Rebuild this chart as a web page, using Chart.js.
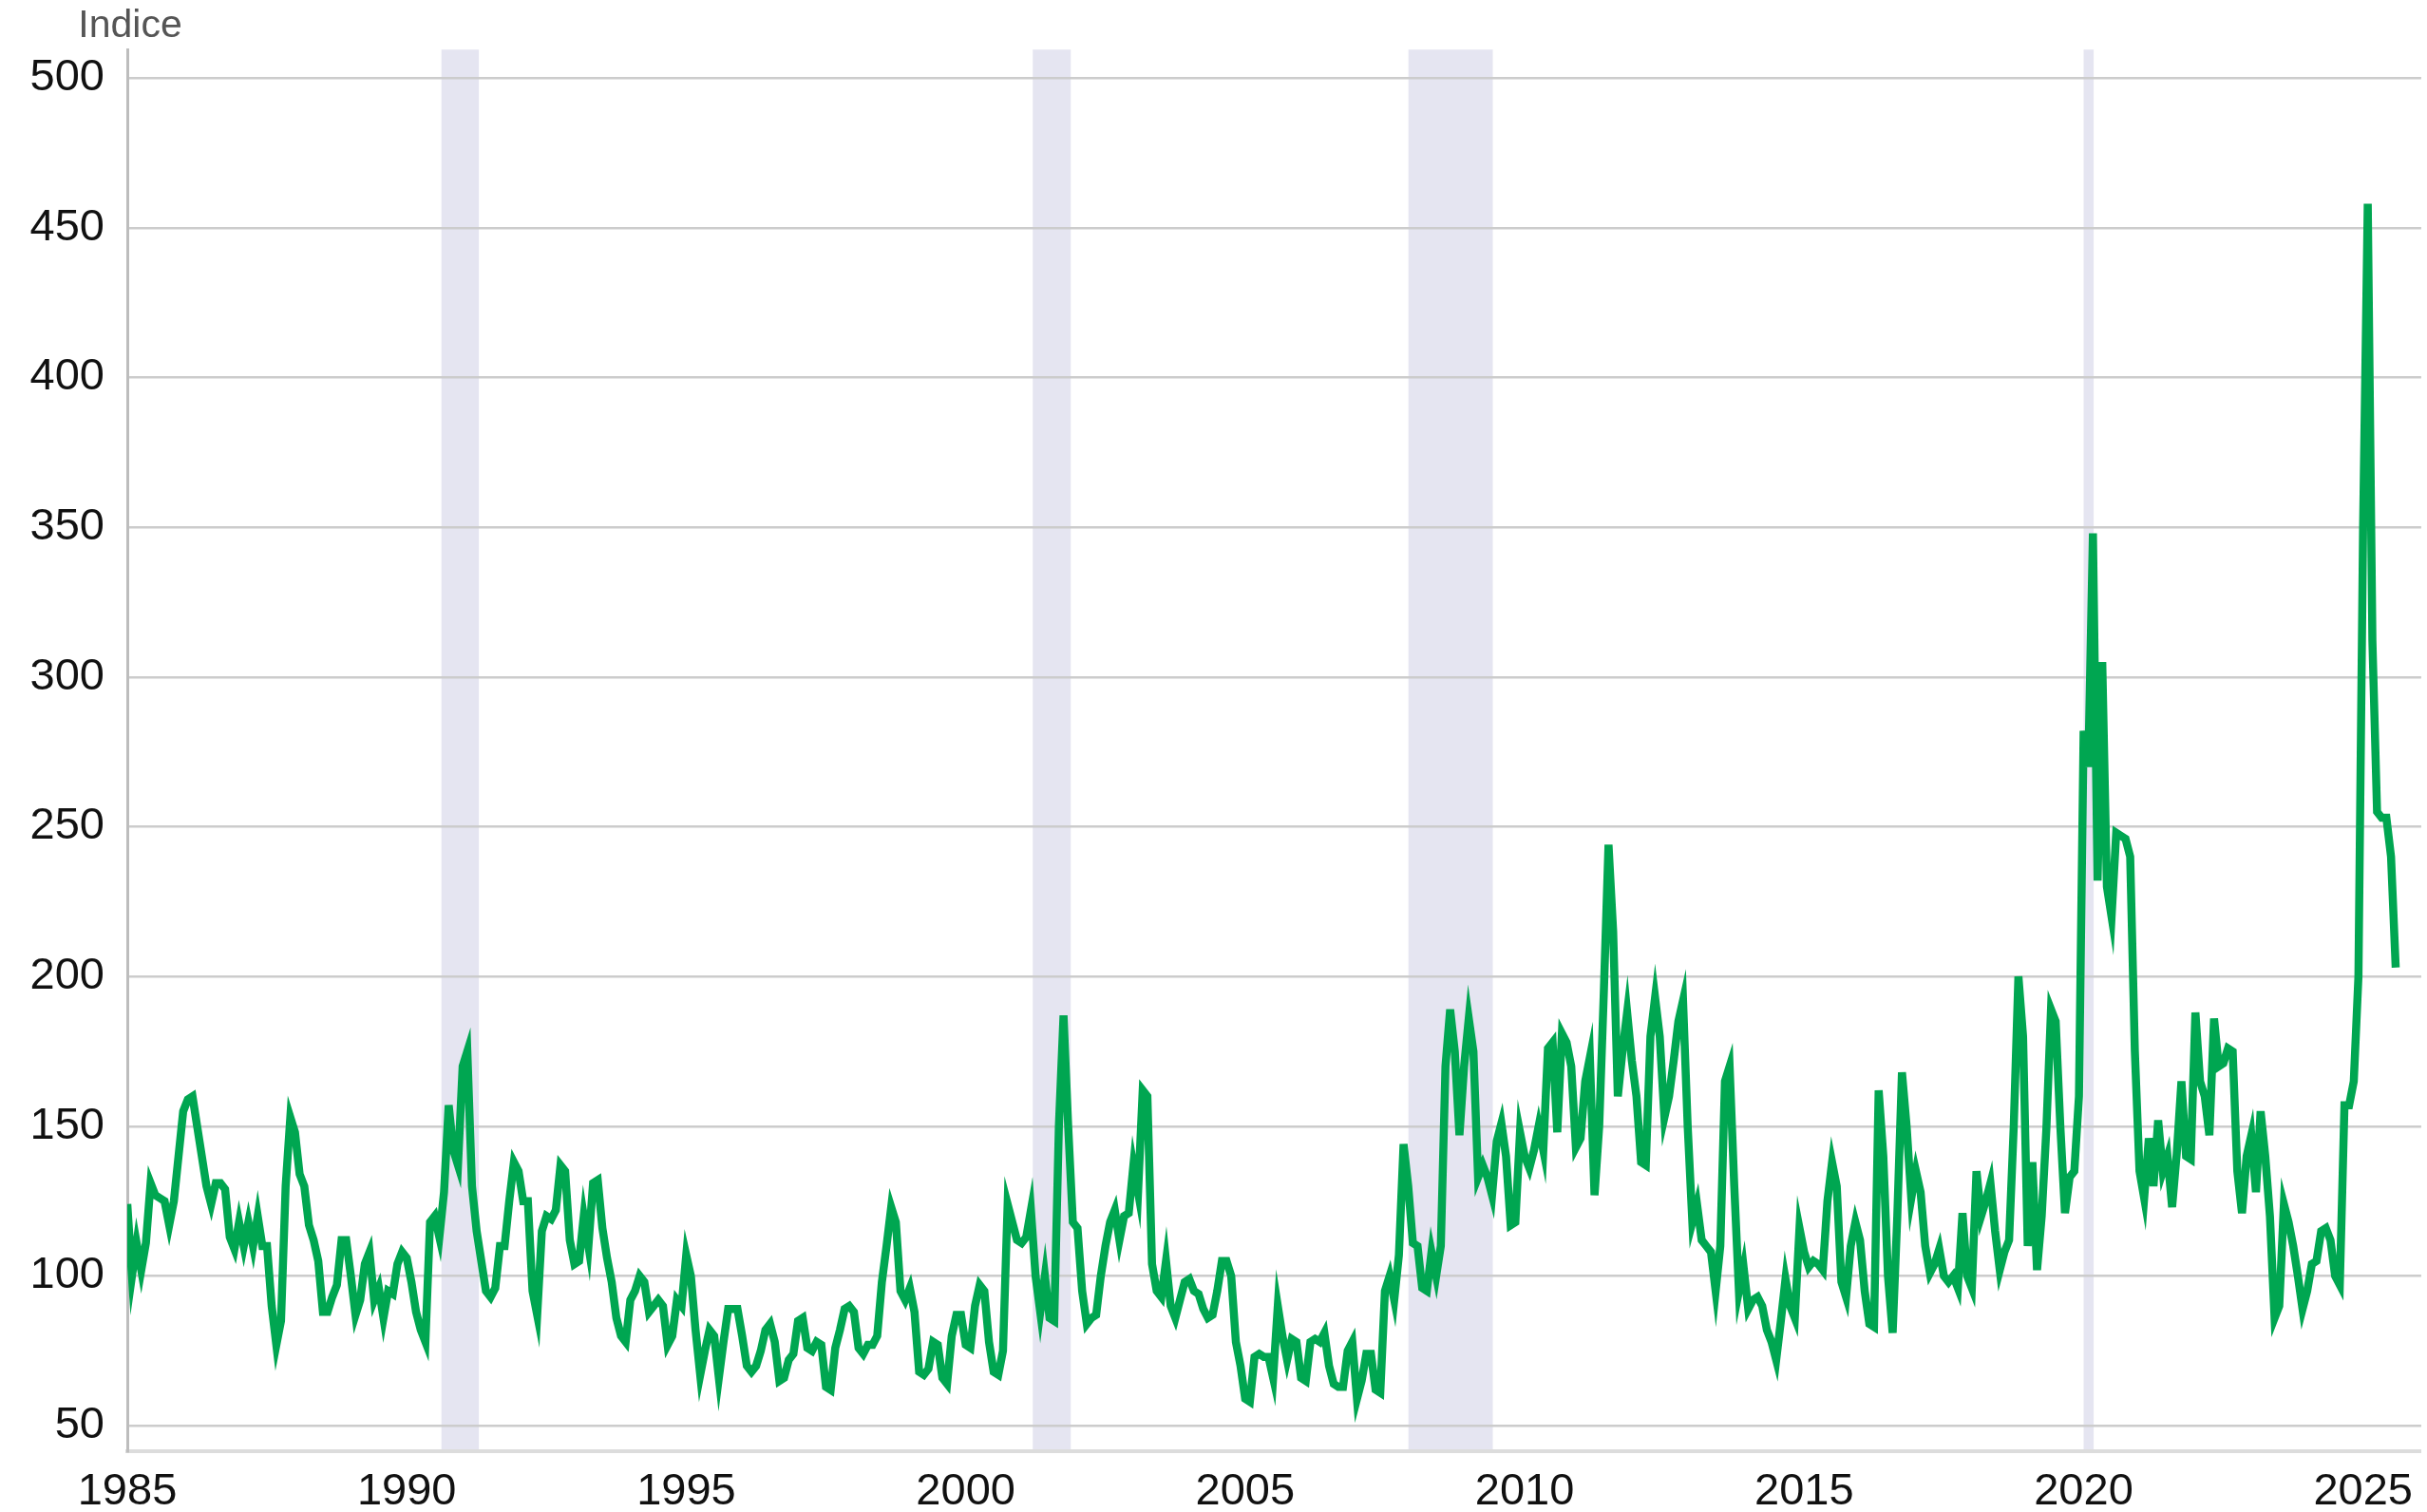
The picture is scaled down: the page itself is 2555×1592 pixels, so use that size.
<!DOCTYPE html>
<html>
<head>
<meta charset="utf-8">
<script src="https://cdn.jsdelivr.net/npm/chart.js@4.4.1/dist/chart.umd.min.js"></script>
<style>
  html, body { margin: 0; padding: 0; background: #ffffff; }
  #wrap { width: 2555px; height: 1592px; }
</style>
</head>
<body>
<div id="wrap"><canvas id="c" width="2555" height="1592"></canvas></div>
<script>
// ---- data (monthly index, starting January 1985) ----
const startYear = 1985;
const values = [
  124,100,111,102,111,131,127,126,125,117,125,140, // 1985
  155,159,160,150,140,130,124,131,131,129,113,109, // 1986
  118,110,118,110,120,110,110,90,77,85,130,153,    // 1987
  148,134,130,117,112,105,88,88,93,97,112,112,     // 1988
  100,87,92,104,108,92,96,86,95,94,104,108,        // 1989
  106,98,88,82,78,118,120,113,128,157,142,137,     // 1990
  170,175,130,115,105,95,93,96,110,110,125,138,    // 1991
  135,125,125,95,87,115,120,119,122,137,135,112,   // 1992
  104,105,120,110,131,132,116,106,98,86,80,78,     // 1993
  92,95,100,98,88,90,92,90,77,80,92,90,            // 1994
  107,100,82,67,75,82,80,66,78,89,89,89,           // 1995
  80,70,68,70,75,82,84,78,65,66,72,74,             // 1996
  85,86,76,75,78,77,63,62,76,82,89,90,             // 1997
  88,76,74,77,77,80,98,110,123,118,95,92,          // 1998
  96,88,68,67,69,78,77,66,64,80,87,87,             // 1999
  77,76,90,97,95,78,68,67,75,124,118,112,          // 2000
  111,113,122,100,88,100,86,85,150,187,150,118,    // 2001
  116,95,84,86,87,100,110,118,122,112,120,121,     // 2002
  137,128,162,160,104,95,93,105,90,86,92,98,       // 2003
  99,95,94,89,86,87,95,105,105,100,78,70,          // 2004
  59,58,73,74,73,73,66,90,80,72,79,78,             // 2005
  66,65,78,79,78,81,70,64,63,63,75,78,             // 2006
  59,65,74,74,62,61,95,100,92,107,144,130,         // 2007
  111,110,96,95,108,100,110,170,189,175,147,170,   // 2008
  186,175,133,137,133,127,145,151,140,117,118,148, // 2009
  140,136,142,150,142,176,178,148,181,178,170,143, // 2010
  146,165,173,127,150,195,244,215,160,175,188,172, // 2011
  160,138,137,180,193,180,153,160,172,185,192,150, // 2012
  118,124,112,110,108,95,110,165,170,130,95,103,   // 2013
  89,92,93,90,82,78,72,85,99,90,86,116,            // 2014
  108,103,105,104,102,125,138,130,98,93,110,118,   // 2015
  112,95,84,83,162,140,100,81,120,168,150,126,     // 2016
  135,128,110,101,104,109,100,98,100,96,121,100,   // 2017
  96,135,120,125,131,115,102,108,112,150,200,180,  // 2018
  110,138,102,120,149,189,185,150,121,133,135,160, // 2019
  282,270,348,232,305,230,220,248,247,246,240,175, // 2020
  135,126,146,130,152,135,140,123,141,165,140,139, // 2021
  188,165,160,147,186,170,171,176,175,135,121,140, // 2022
  147,128,155,140,120,86,90,124,118,110,100,89,    // 2023
  95,104,105,115,116,112,100,97,157,157,165,200,   // 2024
  350,458,312,255,253,253,240,203                  // 2025
];
const xTickValues = [1985, 1990, 1995, 2000, 2005, 2010, 2015, 2020, 2025];
const yTickValues = [50, 100, 150, 200, 250, 300, 350, 400, 450, 500];
const recessionStart = [1990.62, 2001.20, 2007.92, 2020.00];
const recessionEnd   = [1991.29, 2001.88, 2009.43, 2020.18];
const yAxisTitle = 'Indice';

// ---- build points ----
const points = values.map((v, i) => ({ x: startYear + i / 12, y: v }));

const bandsPlugin = {
  id: 'bands',
  beforeDraw(chart) {
    const { ctx, chartArea, scales } = chart;
    ctx.save();
    ctx.fillStyle = '#e5e5f1';
    for (let i = 0; i < recessionStart.length; i++) {
      const x0 = scales.x.getPixelForValue(recessionStart[i]);
      const x1 = scales.x.getPixelForValue(recessionEnd[i]);
      ctx.fillRect(x0, chartArea.top, x1 - x0, chartArea.bottom - chartArea.top);
    }
    ctx.restore();
  },
  afterDraw(chart) {
    const { ctx, chartArea } = chart;
    ctx.save();
    ctx.font = '41px "Liberation Sans", Arial, sans-serif';
    ctx.fillStyle = '#555555';
    ctx.textAlign = 'center';
    ctx.textBaseline = 'alphabetic';
    ctx.fillText(yAxisTitle, chartArea.left + 3, 39);
    ctx.restore();
  }
};

const tickFont = { family: '"Liberation Sans", Arial, sans-serif', size: 47 };

new Chart(document.getElementById('c'), {
  type: 'line',
  data: {
    datasets: [{
      data: points,
      borderColor: '#00a651',
      borderWidth: 8.5,
      pointRadius: 0,
      tension: 0,
      fill: false
    }]
  },
  options: {
    responsive: false,
    animation: false,
    events: [],
    layout: { padding: { top: 50, right: 0, bottom: 0, left: 0 } },
    plugins: { legend: { display: false }, tooltip: { enabled: false } },
    scales: {
      x: {
        type: 'linear',
        min: 1985,
        max: 2026.04,
        afterBuildTicks: (s) => { s.ticks = xTickValues.map(v => ({ value: v })); },
        afterFit: (s) => { s.height = 64; },
        ticks: {
          font: tickFont,
          color: '#111111',
          padding: 15,
          maxRotation: 0,
          autoSkip: false,
          callback: (v) => String(v)
        },
        grid: { display: false, drawTicks: false },
        border: { display: true, color: '#dcdcdc', width: 4 }
      },
      y: {
        type: 'linear',
        min: 41.5,
        max: 509.5,
        afterBuildTicks: (s) => { s.ticks = yTickValues.map(v => ({ value: v })); },
        afterFit: (s) => { s.width = 134; },
        ticks: {
          font: tickFont,
          color: '#111111',
          padding: 24,
          callback: (v) => String(v)
        },
        grid: { color: '#cccccc', lineWidth: 2.5, drawTicks: false },
        border: { display: true, color: '#bdbdbd', width: 3 }
      }
    }
  },
  plugins: [bandsPlugin]
});
</script>
</body>
</html>
